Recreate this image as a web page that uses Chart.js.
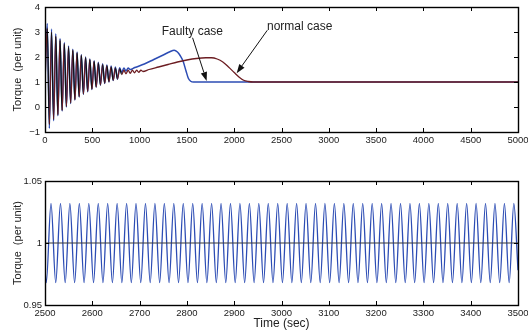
<!DOCTYPE html>
<html><head><meta charset="utf-8">
<script src="https://cdn.jsdelivr.net/npm/chart.js@4.4.1/dist/chart.umd.min.js"></script>
<style>
html,body{margin:0;padding:0;background:#fff;}
#wrap{position:relative;width:528px;height:333px;overflow:hidden;background:#fff;}
#c1{position:absolute;left:0;top:0;}
#c2{position:absolute;left:0;top:170px;}
</style></head><body>
<div id="wrap">
<canvas id="c1" width="528" height="152" style="width:528px;height:152px"></canvas>
<canvas id="c2" width="528" height="163" style="width:528px;height:163px"></canvas>
</div>
<script>
// ---------- Top panel data ----------
const topXTicks = [0, 500, 1000, 1500, 2000, 2500, 3000, 3500, 4000, 4500, 5000];
const topYTicks = [-1, 0, 1, 2, 3, 4];

const faultyTime = [0, 24, 46, 69, 91, 114, 136, 159, 181, 204, 226, 249, 271, 294, 316, 339, 361, 384, 406, 429, 451, 474, 496, 519, 541, 564, 586, 609, 631, 654, 676, 699, 721, 744, 766, 789, 811, 834, 856, 879, 901,
  950, 1050, 1150, 1250, 1320, 1365, 1400, 1430, 1460, 1490, 1515, 1540, 1570, 5000];
const faultyTorque = [1.0, 3.34, -0.86, 3.12, -0.55, 2.93, -0.35, 2.74, -0.16, 2.58, 0.0, 2.44, 0.14, 2.31, 0.28, 2.2, 0.4, 2.09, 0.51, 2.0, 0.61, 1.92, 0.7, 1.85, 0.79, 1.79, 0.87, 1.73, 0.94, 1.68, 1.0, 1.64, 1.06, 1.6, 1.11, 1.57, 1.38, 1.56, 1.44, 1.56, 1.5,
  1.58, 1.72, 1.9, 2.08, 2.21, 2.27, 2.2, 2.05, 1.83, 1.45, 1.15, 1.03, 1.0, 1.0];

const normalTime = [0, 24, 46, 69, 91, 114, 136, 159, 181, 204, 226, 249, 271, 294, 316, 339, 361, 384, 406, 429, 451, 474, 496, 519, 541, 564, 586, 609, 631, 654, 676, 699, 721, 744, 766, 789, 811, 834, 856, 879, 901, 924, 946, 969, 991, 1014, 1036,
  1100, 1200, 1300, 1400, 1500, 1600, 1700, 1760, 1820, 1880, 1940, 2000, 2050, 2100, 2150, 2200, 5000];
const normalTorque = [1.0, 3.15, -0.7, 3.0, -0.5, 2.84, -0.32, 2.68, -0.14, 2.53, 0.02, 2.4, 0.16, 2.28, 0.29, 2.17, 0.41, 2.07, 0.52, 1.98, 0.62, 1.9, 0.71, 1.83, 0.8, 1.76, 0.88, 1.7, 0.95, 1.65, 1.01, 1.6, 1.07, 1.56, 1.12, 1.52, 1.3, 1.47, 1.33, 1.47, 1.35, 1.47, 1.37, 1.47, 1.39, 1.47, 1.42,
  1.5, 1.6, 1.7, 1.8, 1.88, 1.94, 1.97, 1.97, 1.92, 1.8, 1.6, 1.38, 1.2, 1.07, 1.02, 1.0, 1.0];

// ---------- Bottom panel data (zoom 2500-3500 s) ----------
const bottomXTicks = [2500, 2600, 2700, 2800, 2900, 3000, 3100, 3200, 3300, 3400, 3500];
const bottomYTicks = [0.95, 1, 1.05];

const zoomTime = [2500,
  2502.7, 2512.7, 2522.7, 2532.7, 2542.7, 2552.6, 2562.6, 2572.6, 2582.6, 2592.6,
  2602.6, 2612.6, 2622.5, 2632.5, 2642.5, 2652.5, 2662.5, 2672.5, 2682.5, 2692.4,
  2702.4, 2712.4, 2722.4, 2732.4, 2742.4, 2752.3, 2762.3, 2772.3, 2782.3, 2792.3,
  2802.3, 2812.3, 2822.3, 2832.2, 2842.2, 2852.2, 2862.2, 2872.2, 2882.2, 2892.1,
  2902.1, 2912.1, 2922.1, 2932.1, 2942.1, 2952.0, 2962.0, 2972.0, 2982.0, 2992.0,
  3002.0, 3012.0, 3021.9, 3031.9, 3041.9, 3051.9, 3061.9, 3071.9, 3081.8, 3091.8,
  3101.8, 3111.8, 3121.8, 3131.8, 3141.8, 3151.7, 3161.7, 3171.7, 3181.7, 3191.7,
  3201.7, 3211.7, 3221.6, 3231.6, 3241.6, 3251.6, 3261.6, 3271.6, 3281.5, 3291.5,
  3301.5, 3311.5, 3321.5, 3331.5, 3341.4, 3351.4, 3361.4, 3371.4, 3381.4, 3391.4,
  3401.4, 3411.4, 3421.3, 3431.3, 3441.3, 3451.3, 3461.3, 3471.3, 3481.3, 3491.2,
  3500];
const zoomFaultyTorque = [0.979,
  0.968, 1.032, 0.968, 1.032, 0.968, 1.032, 0.968, 1.032, 0.968, 1.032,
  0.968, 1.032, 0.968, 1.032, 0.968, 1.032, 0.968, 1.032, 0.968, 1.032,
  0.968, 1.032, 0.968, 1.032, 0.968, 1.032, 0.968, 1.032, 0.968, 1.032,
  0.968, 1.032, 0.968, 1.032, 0.968, 1.032, 0.968, 1.032, 0.968, 1.032,
  0.968, 1.032, 0.968, 1.032, 0.968, 1.032, 0.968, 1.032, 0.968, 1.032,
  0.968, 1.032, 0.968, 1.032, 0.968, 1.032, 0.968, 1.032, 0.968, 1.032,
  0.968, 1.032, 0.968, 1.032, 0.968, 1.032, 0.968, 1.032, 0.968, 1.032,
  0.968, 1.032, 0.968, 1.032, 0.968, 1.032, 0.968, 1.032, 0.968, 1.032,
  0.968, 1.032, 0.968, 1.032, 0.968, 1.032, 0.968, 1.032, 0.968, 1.032,
  0.968, 1.032, 0.968, 1.032, 0.968, 1.032, 0.968, 1.032, 0.968, 1.032,
  0.978];
const zoomNormalTime = [2500, 3500];
const zoomNormalTorque = [1, 1];

// ---------- Annotations (data coordinates) ----------
const noteLabels = ['Faulty case', 'normal case'];
const noteConfig = [
  {at: [1233, 3.03], from: [1560, 2.77], to: [1709, 1.04]},
  {at: [2347, 3.21], from: [2350, 3.07], to: [2026, 1.35]}
];

// ---------- Styling / helpers ----------
const FONT = '"Liberation Sans", Arial, Helvetica, sans-serif';
Chart.defaults.font.family = FONT;
Chart.defaults.color = '#222';
const BLUE = '#2c4cb4';
const MAROON = '#6c1d22';

const pts = (xs, ys) => xs.map((x, i) => ({x: x, y: ys[i]}));
const fmtNum = v => {
  const s = String(Number(v.toFixed(2)));
  return v < 0 ? '\u2212' + s.slice(1) : s;
};

const boxTicks = {
  id: 'boxTicks',
  afterDraw(chart) {
    const {ctx, chartArea: a, scales: {x, y}} = chart;
    ctx.save();
    ctx.strokeStyle = '#000';
    ctx.lineWidth = 1;
    const L = 4;
    ctx.beginPath();
    x.ticks.forEach(t => {
      const px = Math.round(x.getPixelForValue(t.value)) + 0.5;
      ctx.moveTo(px, a.bottom); ctx.lineTo(px, a.bottom - L);
      ctx.moveTo(px, a.top); ctx.lineTo(px, a.top + L);
    });
    y.ticks.forEach(t => {
      const py = Math.round(y.getPixelForValue(t.value)) + 0.5;
      ctx.moveTo(a.left, py); ctx.lineTo(a.left + L, py);
      ctx.moveTo(a.right, py); ctx.lineTo(a.right - L, py);
    });
    ctx.stroke();
    ctx.lineWidth = 1.4;
    ctx.strokeRect(Math.round(a.left) + 0.5, Math.round(a.top) + 0.5, Math.round(a.right - a.left), Math.round(a.bottom - a.top));
    ctx.restore();
  }
};

const notes = {
  id: 'notes',
  afterDraw(chart) {
    const {ctx, scales: {x, y}} = chart;
    ctx.save();
    ctx.font = '12px ' + FONT;
    ctx.fillStyle = '#222';
    ctx.textAlign = 'left';
    ctx.textBaseline = 'middle';
    noteConfig.forEach((n, i) => {
      ctx.fillText(noteLabels[i], x.getPixelForValue(n.at[0]), y.getPixelForValue(n.at[1]));
      const x0 = x.getPixelForValue(n.from[0]), y0 = y.getPixelForValue(n.from[1]);
      const x1 = x.getPixelForValue(n.to[0]), y1 = y.getPixelForValue(n.to[1]);
      const ang = Math.atan2(y1 - y0, x1 - x0);
      const hl = 9, hw = 3.2;
      const bx = x1 - hl * Math.cos(ang), by = y1 - hl * Math.sin(ang);
      ctx.strokeStyle = '#111';
      ctx.lineWidth = 1;
      ctx.beginPath(); ctx.moveTo(x0, y0); ctx.lineTo(bx, by); ctx.stroke();
      ctx.fillStyle = '#111';
      ctx.beginPath();
      ctx.moveTo(x1, y1);
      ctx.lineTo(bx + hw * Math.sin(ang), by - hw * Math.cos(ang));
      ctx.lineTo(bx - hw * Math.sin(ang), by + hw * Math.cos(ang));
      ctx.closePath(); ctx.fill();
      ctx.fillStyle = '#222';
    });
    ctx.restore();
  }
};

function xScale(min, max, tickVals, height, withTitle) {
  return {
    type: 'linear', min: min, max: max,
    afterBuildTicks: s => { s.ticks = tickVals.map(v => ({value: v})); },
    grid: {display: false, drawTicks: false},
    border: {display: false},
    ticks: {font: {size: 9.5}, color: '#222', padding: 3, maxRotation: 0, autoSkip: false, callback: v => fmtNum(v)},
    title: withTitle ? {display: true, text: 'Time (sec)', font: {size: 12}, color: '#222', padding: {top: 0, bottom: 2}} : {display: false},
    afterFit: s => { s.height = height; s.paddingLeft = 0; s.paddingRight = 0; }
  };
}
function yScale(min, max, tickVals, pad) {
  return {
    type: 'linear', min: min, max: max,
    afterBuildTicks: s => { s.ticks = tickVals.map(v => ({value: v})); },
    grid: {display: false, drawTicks: false},
    border: {display: false},
    ticks: {font: {size: 9.5}, color: '#222', padding: pad, autoSkip: false, callback: v => fmtNum(v)},
    title: {display: true, text: 'Torque  (per unit)', font: {size: 11}, color: '#222', padding: {top: 11, bottom: 0}},
    afterFit: s => { s.width = 45; s.paddingTop = 0; s.paddingBottom = 0; }
  };
}

new Chart(document.getElementById('c1'), {
  type: 'line',
  data: {datasets: [
    {label: 'normal case', order: 0, data: pts(normalTime, normalTorque),
     borderColor: MAROON, borderWidth: 1.3, pointRadius: 0, cubicInterpolationMode: 'monotone',
     segment: {borderColor: c => (c.p0.parsed.x < 800 && c.p1.parsed.y < c.p0.parsed.y) ? '#111' : MAROON}},
    {label: 'Faulty case', order: 1, data: pts(faultyTime, faultyTorque),
     borderColor: BLUE, borderWidth: 1.5, pointRadius: 0, cubicInterpolationMode: 'monotone'}
  ]},
  options: {
    responsive: false, animation: false, events: [],
    layout: {padding: {left: 0, right: 10, top: 7, bottom: 0}},
    plugins: {legend: {display: false}, tooltip: {enabled: false}},
    scales: {x: xScale(0, 5000, topXTicks, 20, false), y: yScale(-1, 4, topYTicks, 5)}
  },
  plugins: [boxTicks, notes]
});

new Chart(document.getElementById('c2'), {
  type: 'line',
  data: {datasets: [
    {label: 'normal case', order: 0, data: pts(zoomNormalTime, zoomNormalTorque),
     borderColor: '#3a3a3a', borderWidth: 1.2, pointRadius: 0},
    {label: 'Faulty case', order: 1, data: pts(zoomTime, zoomFaultyTorque),
     borderColor: BLUE, borderWidth: 1.3, pointRadius: 0, cubicInterpolationMode: 'monotone'}
  ]},
  options: {
    responsive: false, animation: false, events: [],
    layout: {padding: {left: 0, right: 10, top: 11, bottom: 0}},
    plugins: {legend: {display: false}, tooltip: {enabled: false}},
    scales: {x: xScale(2500, 3500, bottomXTicks, 28, true), y: yScale(0.95, 1.05, bottomYTicks, 3)}
  },
  plugins: [boxTicks]
});
</script>
</body></html>
